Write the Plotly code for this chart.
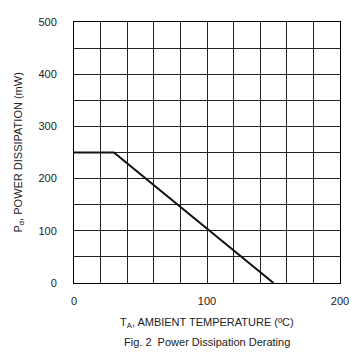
import plotly.graph_objects as go

temp_c = [0, 30, 150]
power_mw = [250, 250, 0]
x_ticks = [0, 100, 200]
y_ticks = [0, 100, 200, 300, 400, 500]

font = "Liberation Sans, Arial, sans-serif"

fig = go.Figure()
fig.add_trace(go.Scatter(x=temp_c, y=power_mw, mode="lines",
                         line=dict(color="#111111", width=2), showlegend=False,
                         cliponaxis=False))

grid_col = "#222222"
fig.update_xaxes(range=[0, 200], tickvals=x_ticks, ticktext=[str(v) for v in x_ticks],
                 showgrid=True, gridcolor=grid_col, gridwidth=1,
                 minor=dict(dtick=20, showgrid=True, gridcolor=grid_col, gridwidth=1),
                 showline=True, linecolor="#000", linewidth=1, mirror=True,
                 ticks="", zeroline=False, ticklabelstandoff=8,
                 tickfont=dict(family=font, size=11, color="#222"))
fig.update_yaxes(range=[0, 500], tickvals=y_ticks, ticktext=[str(v) for v in y_ticks],
                 showgrid=True, gridcolor=grid_col, gridwidth=1,
                 minor=dict(dtick=50, showgrid=True, gridcolor=grid_col, gridwidth=1),
                 showline=True, linecolor="#000", linewidth=1, mirror=True,
                 ticks="", zeroline=False, ticklabelstandoff=14,
                 tickfont=dict(family=font, size=11, color="#222"))

fig.add_annotation(text="T<sub>A</sub>, AMBIENT TEMPERATURE (ºC)", xref="paper", yref="paper",
                   x=0.5, y=0, yshift=-40, showarrow=False, yanchor="middle",
                   font=dict(family=font, size=11, color="#222"))
fig.add_annotation(text="Fig. 2  Power Dissipation Derating", xref="paper", yref="paper",
                   x=0.5, y=0, yshift=-59, showarrow=False, yanchor="middle",
                   font=dict(family=font, size=11, color="#222"))
fig.add_annotation(text="P<sub>d</sub>, POWER DISSIPATION (mW)", xref="paper", yref="paper",
                   x=0, xshift=-56, y=0.5, textangle=-90, showarrow=False, xanchor="center",
                   font=dict(family=font, size=11, color="#222"))

fig.update_layout(width=353, height=347, margin=dict(l=66, r=21, t=8, b=72),
                  plot_bgcolor="white", paper_bgcolor="white")

fig.write_html("out.html")
